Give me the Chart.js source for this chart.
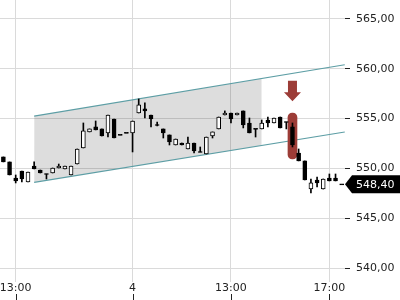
<!DOCTYPE html>
<html><head><meta charset="utf-8">
<script src="https://cdn.jsdelivr.net/npm/chart.js@4"></script>
<style>html,body{margin:0;padding:0;background:#fff;overflow:hidden}#wrap{width:400px;height:300px}</style>
</head><body><div id="wrap"><canvas id="c" width="400" height="300"></canvas></div>
<script>
// 15-minute candles, index 0..55
const opens  = [551.15,550.65,549.04,549.74,548.64,550.24,549.84,549.44,549.54,550.04,549.94,549.34,550.44,552.05,553.66,554.16,553.96,553.56,554.96,553.36,553.56,553.56,555.56,555.97,555.36,554.36,553.96,553.36,552.35,552.55,551.95,552.55,551.65,551.45,553.25,553.96,555.36,555.56,555.36,555.77,554.56,553.96,553.96,554.86,554.56,555.16,554.66,554.16,551.55,550.75,547.93,548.84,547.93,549.04,549.04,548.40];
const highs  = [551.15,550.65,549.34,549.74,549.64,550.65,549.84,549.44,550.04,550.44,550.24,550.24,551.95,554.56,553.96,554.76,553.96,555.36,554.96,553.36,553.56,554.76,556.97,556.57,555.36,554.66,553.96,553.36,552.95,552.55,553.15,552.55,552.15,553.15,553.66,555.16,555.77,555.56,555.56,555.77,555.06,553.96,554.86,555.16,555.06,555.16,554.66,554.56,551.95,550.75,548.94,549.14,548.94,549.44,549.44,548.40];
const lows   = [550.65,549.34,548.54,548.64,548.64,549.94,549.54,548.94,549.54,550.04,549.94,549.34,550.44,552.05,553.66,553.86,553.25,553.15,553.05,553.36,553.56,551.65,555.56,555.06,554.16,554.26,553.05,552.35,552.35,552.35,551.95,551.55,551.65,551.45,553.05,553.96,555.36,554.56,555.36,554.06,553.56,553.15,553.96,554.16,554.56,554.06,553.96,552.15,550.75,548.84,547.53,548.13,547.93,548.74,548.74,548.40];
const closes = [550.65,549.34,548.74,548.94,549.64,549.94,549.54,549.44,550.04,550.24,550.24,550.24,551.95,553.76,553.96,553.86,553.25,555.36,553.05,553.36,553.56,554.76,556.37,555.77,554.96,554.36,553.56,552.65,552.95,552.35,552.55,551.75,551.65,553.15,553.66,555.16,555.56,554.96,555.56,554.36,553.56,553.96,554.56,554.56,555.06,554.06,554.66,552.35,550.75,548.84,548.54,548.54,548.94,548.74,548.74,548.40];
const xTickIndex  = [2, 21, 37, 53];
const xTickLabels = ['13:00', '4', '13:00', '17:00'];
const yTicks = [540, 545, 550, 555, 560, 565];
const channelUpper = [{x: 5, y: 555.25}, {x: 55.5, y: 560.40}];
const channelLower = [{x: 5, y: 548.60}, {x: 55.5, y: 553.65}];
const shadeUpper = [{x: 5, y: 555.25}, {x: 42, y: 559.02}];
const shadeLower = [{x: 5, y: 548.60}, {x: 42, y: 552.30}];
const markerIndex = 47;
const markerBar = [550.95, 555.56];
const arrowRange = [558.80, 556.75];
const lastPrice = 548.40;
const lastPriceLabel = '548,40';

const RED = '#9c3c37';
const wickData = opens.map((o, i) => ({x: i, y: [lows[i], highs[i]]}));
const bodyData = opens.map((o, i) => {
  const c = closes[i];
  if (Math.abs(o - c) < 0.08) return {x: i, y: [o - 0.05, o + 0.05]};
  return {x: i, y: [o, c]};
});
const bodyColors = opens.map((o, i) => closes[i] > o + 0.05 ? '#ffffff' : '#000000');

const deco = {
  id: 'deco',
  afterDraw(chart) {
    const {ctx, scales: {x, y}, chartArea} = chart;
    ctx.save();
    const ax = x.getPixelForValue(markerIndex);
    const y0 = y.getPixelForValue(arrowRange[0]);
    const y1 = y.getPixelForValue(arrowRange[1]);
    const headH = 9;
    ctx.fillStyle = RED;
    ctx.beginPath();
    ctx.moveTo(ax - 4.5, y0);
    ctx.lineTo(ax + 4.5, y0);
    ctx.lineTo(ax + 4.5, y1 - headH);
    ctx.lineTo(ax + 8.5, y1 - headH);
    ctx.lineTo(ax, y1);
    ctx.lineTo(ax - 8.5, y1 - headH);
    ctx.lineTo(ax - 4.5, y1 - headH);
    ctx.closePath();
    ctx.fill();
    const yp = y.getPixelForValue(lastPrice);
    const tip = chartArea.right;
    ctx.fillStyle = '#000';
    ctx.beginPath();
    ctx.moveTo(tip, yp);
    ctx.lineTo(tip + 7, yp - 9);
    ctx.lineTo(400, yp - 9);
    ctx.lineTo(400, yp + 9);
    ctx.lineTo(tip + 7, yp + 9);
    ctx.closePath();
    ctx.fill();
    ctx.fillStyle = '#fff';
    ctx.font = '11px "DejaVu Sans"';
    ctx.textBaseline = 'middle';
    ctx.textAlign = 'left';
    ctx.fillText(lastPriceLabel, tip + 11, yp + 0.5);
    ctx.strokeStyle = '#222';
    ctx.lineWidth = 1;
    xTickIndex.forEach(v => {
      const px = Math.round(x.getPixelForValue(v)) + 0.5;
      ctx.beginPath();
      ctx.moveTo(px, 294);
      ctx.lineTo(px, 300);
      ctx.stroke();
    });
    ctx.restore();
  }
};

new Chart(document.getElementById('c'), {
  type: 'bar',
  data: {
    datasets: [
      {type: 'line', data: shadeUpper, borderWidth: 0, pointRadius: 0, fill: false, order: 20, borderColor: 'rgba(0,0,0,0)'},
      {type: 'line', data: shadeLower, borderWidth: 0, pointRadius: 0, fill: '-1', backgroundColor: 'rgba(0,0,0,0.135)', order: 19, borderColor: 'rgba(0,0,0,0)'},
      {type: 'line', data: channelUpper, borderColor: '#5d9ea5', borderWidth: 1.2, pointRadius: 0, fill: false, order: 15},
      {type: 'line', data: channelLower, borderColor: '#5d9ea5', borderWidth: 1.2, pointRadius: 0, fill: false, order: 15},
      {data: [{x: markerIndex, y: markerBar}], backgroundColor: RED, barThickness: 9, borderRadius: 5, borderSkipped: false, grouped: false, order: 10},
      {data: wickData, backgroundColor: '#000', barThickness: 1, grouped: false, order: 3},
      {data: bodyData, backgroundColor: bodyColors, borderColor: '#000', borderWidth: 1, borderSkipped: false, barThickness: 4, grouped: false, order: 1}
    ]
  },
  options: {
    responsive: false,
    animation: false,
    devicePixelRatio: 1,
    layout: {padding: 0},
    plugins: {legend: {display: false}, tooltip: {enabled: false}},
    scales: {
      x: {
        type: 'linear', min: -0.553, max: 55.54, offset: false,
        afterBuildTicks: s => { s.ticks = xTickIndex.map(v => ({value: v})); },
        afterFit: s => { s.height = 18; s.paddingLeft = 0; s.paddingRight = 0; },
        grid: {color: '#dadada', drawTicks: false, offset: false},
        border: {display: false},
        ticks: {
          padding: 0, maxRotation: 0, autoSkip: false, color: '#222',
          font: {family: 'DejaVu Sans', size: 11},
          callback: v => xTickLabels[xTickIndex.indexOf(v)]
        }
      },
      y: {
        position: 'right', min: 538.6, max: 566.9,
        afterBuildTicks: s => { s.ticks = yTicks.map(v => ({value: v})); },
        afterFit: s => { s.width = 55; s.paddingTop = 0; s.paddingBottom = 0; },
        grid: {color: '#dadada', tickColor: '#222', tickLength: 5, drawTicks: true},
        border: {display: false},
        ticks: {
          padding: 6, color: '#222',
          font: {family: 'DejaVu Sans', size: 11},
          callback: v => v.toFixed(2).replace('.', ',')
        }
      }
    }
  },
  plugins: [deco]
});
</script>
</body></html>
